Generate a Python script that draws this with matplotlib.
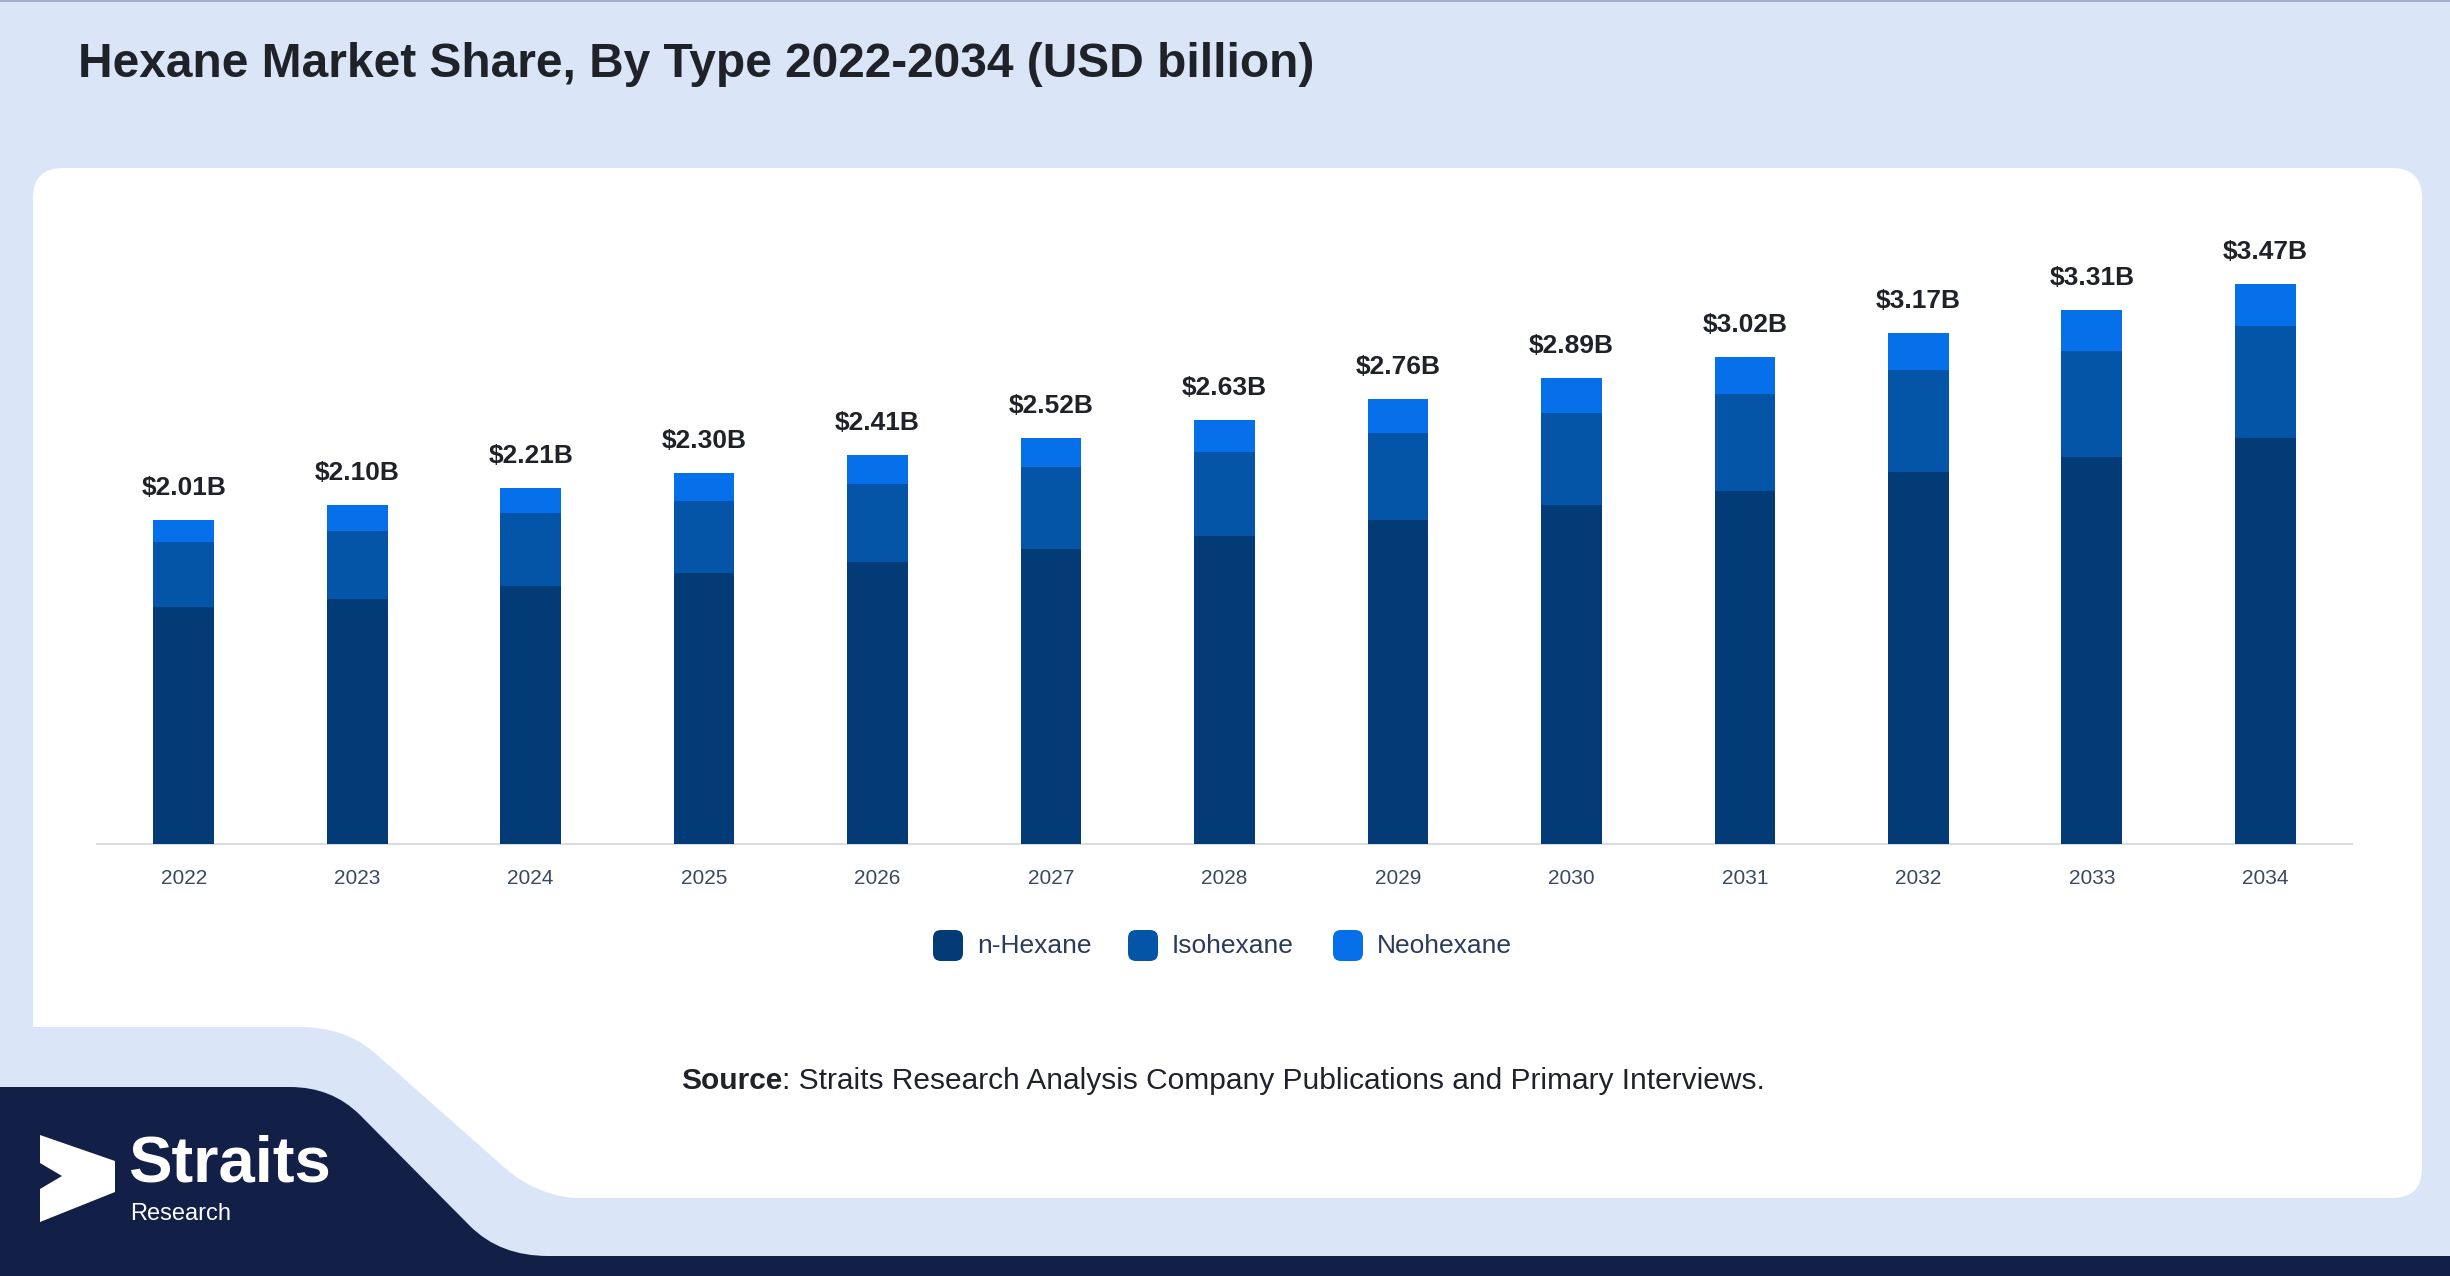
import numpy as np
import matplotlib.pyplot as plt
from matplotlib.patches import FancyBboxPatch, PathPatch, Polygon
from matplotlib.path import Path

plt.rcParams['font.family'] = ['Liberation Sans', 'DejaVu Sans']

# data (USD billion)
years = ['2022', '2023', '2024', '2025', '2026', '2027', '2028',
         '2029', '2030', '2031', '2032', '2033', '2034']
n_hexane = [1.47, 1.52, 1.60, 1.68, 1.75, 1.83, 1.91, 2.01, 2.10, 2.19, 2.31, 2.40, 2.52]
isohexane = [0.40, 0.42, 0.45, 0.45, 0.48, 0.51, 0.52, 0.54, 0.57, 0.60, 0.63, 0.66, 0.69]
neohexane = [0.14, 0.16, 0.16, 0.17, 0.18, 0.18, 0.20, 0.21, 0.22, 0.23, 0.23, 0.25, 0.26]
totals = ['$2.01B', '$2.10B', '$2.21B', '$2.30B', '$2.41B', '$2.52B', '$2.63B',
          '$2.76B', '$2.89B', '$3.02B', '$3.17B', '$3.31B', '$3.47B']
series_names = ['n-Hexane', 'Isohexane', 'Neohexane']

colors = ['#033b77', '#0454a7', '#066fea']
bg = '#dae6f8'
navy = '#121f47'
dark = '#1f2229'

W, H = 2450, 1276
fig = plt.figure(figsize=(W / 100, H / 100), dpi=100)
fig.patch.set_facecolor(bg)

# background layer in pixel coordinates
bgax = fig.add_axes([0, 0, 1, 1], zorder=0)
bgax.set_xlim(0, W)
bgax.set_ylim(H, 0)
bgax.axis('off')

bgax.plot([0, W], [0.5, 0.5], color='#a3afca', lw=1.5)

card = FancyBboxPatch((33, 168), 2422 - 33, 1198 - 168,
                      boxstyle='round,pad=0,rounding_size=30',
                      facecolor='white', edgecolor='none')
bgax.add_patch(card)

# light blue cut-out at bottom left of the card
verts = [(0, 1027), (300, 1027), (345, 1027), (375, 1053), (505, 1168),
         (540, 1199), (590, 1199), (590, H), (0, H), (0, 1027)]
codes = [Path.MOVETO, Path.LINETO, Path.CURVE3, Path.CURVE3, Path.LINETO,
         Path.CURVE3, Path.CURVE3, Path.LINETO, Path.LINETO, Path.CLOSEPOLY]
bgax.add_patch(PathPatch(Path(verts, codes), facecolor=bg, edgecolor='none'))

# navy footer
verts = [(0, 1087), (290, 1087), (332, 1087), (360, 1115), (470, 1226),
         (500, 1256), (548, 1256), (W, 1256), (W, H), (0, H), (0, 1087)]
codes = [Path.MOVETO, Path.LINETO, Path.CURVE3, Path.CURVE3, Path.LINETO,
         Path.CURVE3, Path.CURVE3, Path.LINETO, Path.LINETO, Path.LINETO, Path.CLOSEPOLY]
bgax.add_patch(PathPatch(Path(verts, codes), facecolor=navy, edgecolor='none'))

# logo
logo = [(40, 1135), (115, 1161), (115, 1192), (40, 1222), (40, 1189), (62, 1176), (40, 1163)]
bgax.add_patch(Polygon(logo, closed=True, facecolor='white', edgecolor='none'))
bgax.text(128, 1182, 'Straits', color='white', fontsize=47, fontweight='bold', va='baseline')
bgax.text(130, 1220, 'Research', color='white', fontsize=17, va='baseline')

# title
bgax.text(78, 77, 'Hexane Market Share, By Type 2022-2034 (USD billion)',
          fontsize=34.5, fontweight='bold', color=dark, va='baseline')

# source
src = bgax.text(681, 1089, 'Source', fontsize=21.5, fontweight='bold', color=dark,
                va='baseline', ha='left')
bgax.annotate(': Straits Research Analysis Company Publications and Primary Interviews.',
              xy=(1, 0), xycoords=src, fontsize=21.5, color=dark, va='bottom', ha='left')

# legend
leg_x = [933, 1128, 1333]
for lx, name, c in zip(leg_x, series_names, colors):
    bgax.add_patch(FancyBboxPatch((lx, 930), 30, 31, boxstyle='round,pad=0,rounding_size=8',
                                  facecolor=c, edgecolor='none'))
    bgax.text(lx + 44, 946, name, fontsize=19, color='#2c3b5c', va='center')

# chart
x0, x1 = 97, 2352
ybase, ytop = 844, 199
ax = fig.add_axes([x0 / W, 1 - ybase / H, (x1 - x0) / W, (ybase - ytop) / H], zorder=1)
ax.patch.set_alpha(0)
x = np.arange(len(years))
n = np.array(n_hexane)
iso = np.array(isohexane)
neo = np.array(neohexane)
bw = 0.35
ax.bar(x, n, bw, color=colors[0], zorder=3)
ax.bar(x, iso, bw, bottom=n, color=colors[1], zorder=3)
ax.bar(x, neo, bw, bottom=n + iso, color=colors[2], zorder=3)

for xi, top, lab in zip(x, n + iso + neo, totals):
    ax.annotate(lab, (xi, top), xytext=(0, 18), textcoords='offset points',
                ha='center', va='baseline', fontsize=19, fontweight='bold', color=dark)

ax.set_xlim(-0.5, len(years) - 0.5)
ax.set_ylim(0, 4)
ax.set_xticks(x)
ax.set_xticklabels(years)
ax.set_yticks([])
ax.tick_params(axis='x', length=0, pad=18, labelsize=15, labelcolor='#3a4866')
for s in ['top', 'right', 'left']:
    ax.spines[s].set_visible(False)
ax.spines['bottom'].set_color('#d9dce2')
ax.spines['bottom'].set_linewidth(1.5)

fig.savefig('out.png', dpi=100, facecolor=fig.get_facecolor())
